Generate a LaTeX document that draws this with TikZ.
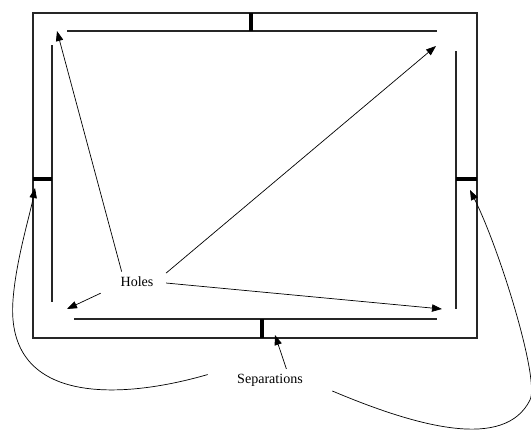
\documentclass[tikz,border=0pt]{standalone}
\usepackage{fontspec}
\setmainfont{Liberation Serif}
\usetikzlibrary{arrows.meta}

\begin{document}
\begin{tikzpicture}[x=0.3mm, y=-0.3mm, every node/.style={font=\fontsize{12}{14}\selectfont}, >={Triangle[length=3mm,width=2.2mm]}, wall/.style={line width=0.9pt, black!85}, divider/.style={line width=2.6pt}, pointer/.style={->, line width=0.6pt}]
	\useasboundingbox (0,0) rectangle (531,430);
	\draw[wall] (33,13) rectangle (477,338);
	\draw[wall] (67,31) -- (437,31);
	\draw[wall] (52,45) -- (52,302);
	\draw[wall] (456,51) -- (456,309);
	\draw[wall] (74,319) -- (437,319);
	\draw[divider] (251,13) -- (251,31);
	\draw[divider] (33,179) -- (52,179);
	\draw[divider] (456,179) -- (477,179);
	\draw[divider] (262,319) -- (262,338);
	\coordinate (tl) at (57,31);
	\coordinate (tr) at (436,46);
	\coordinate (br) at (442,309);
	\coordinate (bl) at (67,309);
	\coordinate (sb) at (275,335);
	\coordinate (sl) at (35,188);
	\coordinate (sr) at (470,190);
	\node[inner xsep=10.6pt, inner ysep=4.4pt] (holes) at (137,282) {Holes};
	\node[inner xsep=25pt, inner ysep=4pt] (seps) at (270,380) {Separations};
	\draw[pointer] (holes.146) -- (tl);
	\draw[pointer] (holes.17) -- (tr);
	\draw[pointer] (holes.-2) -- (br);
	\draw[pointer, shorten <=2.4mm] (holes.195) -- (bl);
	\draw[pointer] (seps.34) -- (sb);
	\draw[pointer] (seps.175) .. controls (120,400) and (5,405) .. (13,300) .. controls (16,260) and (30,215) .. (sl);
	\draw[pointer] (seps.-10) .. controls (420,428) and (505,450) .. (530,400) .. controls (540,380) and (500,250) .. (sr);
\end{tikzpicture}
\end{document}
